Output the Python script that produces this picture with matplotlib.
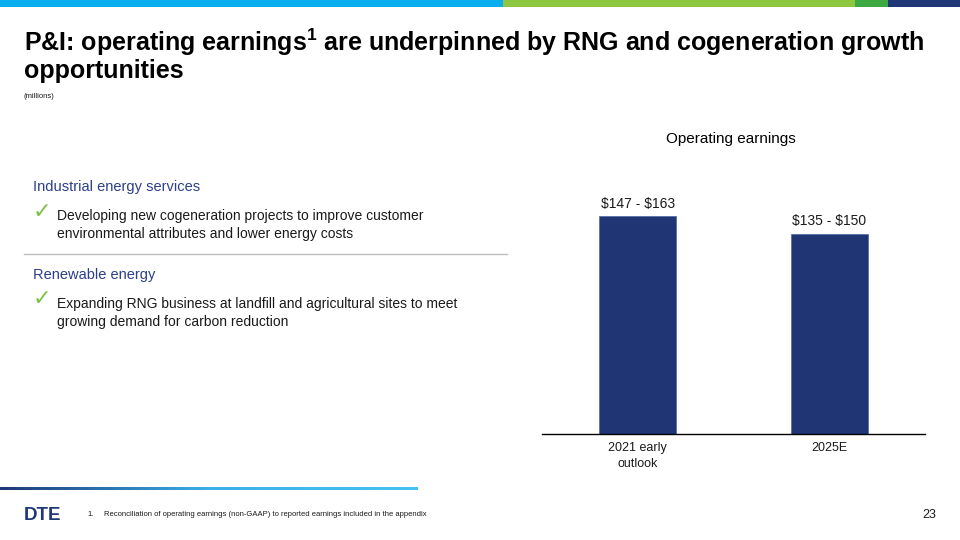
import matplotlib.pyplot as plt
import matplotlib.patches as mpatches
from matplotlib.colors import LinearSegmentedColormap
import numpy as np

# data
categories = ['2021 early\noutlook', '2025E']
low = [147, 135]
high = [163, 150]
range_labels = [r'\$147 - \$163', r'\$135 - \$150']

navy = '#1F3574'
dark_text = '#1A1A1A'
head_blue = '#2B3F8C'
check_green = '#7DC242'

plt.rcParams['font.family'] = ['Liberation Sans', 'DejaVu Sans']
plt.rcParams['mathtext.fontset'] = 'custom'
plt.rcParams['mathtext.bf'] = 'Liberation Sans:bold'
plt.rcParams['mathtext.rm'] = 'Liberation Sans'

fig = plt.figure(figsize=(9.6, 5.4), dpi=100)
W, H = 960.0, 540.0

def fx(x):
    return x / W

def fy(y):
    return 1 - y / H

# top colour band
for x0, x1, c in [(0, 503, '#0AAEEF'), (503, 855, '#8DC63F'),
                  (855, 888, '#3EA843'), (888, 960, '#1F3777')]:
    fig.add_artist(mpatches.Rectangle((fx(x0), fy(7)), fx(x1 - x0), 7 / H,
                                      transform=fig.transFigure, color=c, lw=0))

# title
fig.text(fx(24), fy(42), r'P&I: operating earnings$^{\mathbf{1}}$ are underpinned by RNG and cogeneration growth',
         fontsize=18, fontweight='bold', color='black', va='center', ha='left')
fig.text(fx(24), fy(71), 'opportunities', fontsize=18, fontweight='bold',
         color='black', va='center', ha='left')
fig.text(fx(24), fy(97), '(millions)', fontsize=5.5, color=dark_text, va='center')

# left panel
fig.text(fx(33), fy(187), 'Industrial energy services', fontsize=10.5,
         color=head_blue, va='center')
fig.text(fx(33), fy(212), '\u2713', fontsize=16, color=check_green, va='center',
         family=['DejaVu Sans'])
fig.text(fx(57), fy(216), 'Developing new cogeneration projects to improve customer',
         fontsize=10, color=dark_text, va='center')
fig.text(fx(57), fy(234), 'environmental attributes and lower energy costs',
         fontsize=10, color=dark_text, va='center')
fig.add_artist(plt.Line2D([fx(24), fx(507)], [fy(254), fy(254)],
                          transform=fig.transFigure, color='#BDBDBD', lw=1))
fig.text(fx(33), fy(275), 'Renewable energy', fontsize=10.5,
         color=head_blue, va='center')
fig.text(fx(33), fy(299), '\u2713', fontsize=16, color=check_green, va='center',
         family=['DejaVu Sans'])
fig.text(fx(57), fy(304), 'Expanding RNG business at landfill and agricultural sites to meet',
         fontsize=10, color=dark_text, va='center')
fig.text(fx(57), fy(322), 'growing demand for carbon reduction',
         fontsize=10, color=dark_text, va='center')

# chart
ax = fig.add_axes([fx(542), fy(434), fx(925 - 542), (434 - 167) / H])
x = np.arange(len(categories))
bars = ax.bar(x, high, width=0.4, color=navy, edgecolor='#5A6FA8', lw=0.6)
for b, lab in zip(bars, range_labels):
    ax.text(b.get_x() + b.get_width() / 2, b.get_height() + 4, lab,
            ha='center', va='bottom', fontsize=10, color=dark_text)
ax.set_xlim(-0.5, 1.5)
ax.set_ylim(0, 200)
ax.set_xticks(x)
ax.set_xticklabels(categories, fontsize=9, color=dark_text, linespacing=1.4)
ax.tick_params(axis='x', length=0, pad=6)
ax.set_yticks([])
for s in ['top', 'right', 'left']:
    ax.spines[s].set_visible(False)
ax.spines['bottom'].set_color('black')
ax.spines['bottom'].set_linewidth(1)
fig.text(fx(731), fy(139), 'Operating earnings', fontsize=11, color='black',
         ha='center', va='center')

# bottom gradient line
gax = fig.add_axes([0, fy(490), fx(418), 3 / H])
grad = np.linspace(0, 1, 256).reshape(1, -1)
cm = LinearSegmentedColormap.from_list('g', ['#1F3777', '#3AAFE8', '#46C3F2'])
gax.imshow(grad, aspect='auto', cmap=cm)
gax.axis('off')

# footer
fig.text(fx(24), fy(515), 'DTE', fontsize=13.5, fontweight='heavy', color='#1F3777',
         va='center')
fig.text(fx(87), fy(515), '1.', fontsize=5.5, color=dark_text, va='center')
fig.text(fx(104), fy(515),
         'Reconciliation of operating earnings (non-GAAP) to reported earnings included in the appendix',
         fontsize=5.5, color=dark_text, va='center')
fig.text(fx(936), fy(515), '23', fontsize=9, color=dark_text, va='center', ha='right')

fig.savefig('out.png', dpi=100)
